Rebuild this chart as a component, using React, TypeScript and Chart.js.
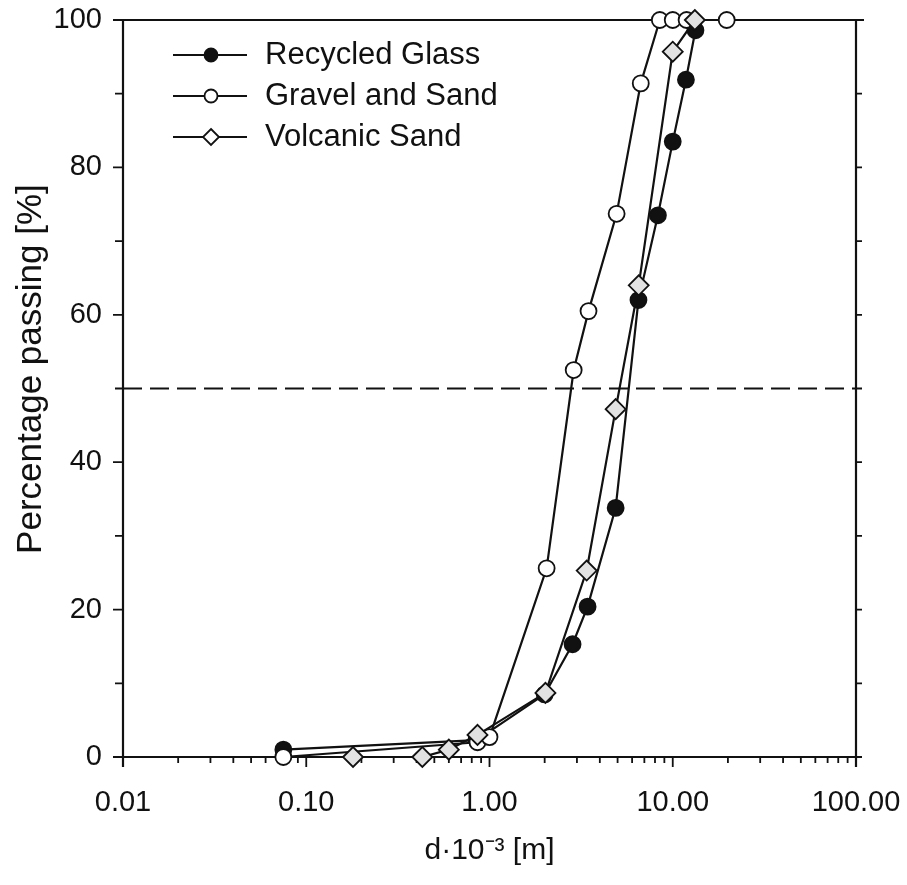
import React, { useEffect, useRef } from 'react';
import { Chart, registerables } from 'chart.js';

Chart.register(...registerables);

// ---- data ----
const seriesNames = ['Recycled Glass', 'Gravel and Sand', 'Volcanic Sand'];

const glassX = [0.075, 0.85, 2.0, 2.84, 3.43, 4.88, 6.5, 8.3, 10.0, 11.8, 13.3];
const glassY = [1.0, 2.3, 8.5, 15.3, 20.4, 33.8, 62.0, 73.5, 83.5, 91.9, 98.6];

const gravelX = [0.075, 0.86, 1.0, 2.05, 2.88, 3.47, 4.94, 6.69, 8.5, 10.0, 11.9, 19.7];
const gravelY = [0.0, 2.0, 2.7, 25.6, 52.5, 60.5, 73.7, 91.4, 100, 100, 100, 100];

const volcX = [0.18, 0.43, 0.6, 0.86, 2.02, 3.39, 4.88, 6.52, 10.0, 13.2];
const volcY = [0.0, 0.0, 1.0, 3.0, 8.7, 25.3, 47.2, 64.0, 95.7, 100];

const refLineX = [0.01, 100];
const refLineY = [50, 50];

const xMajorTicks = [0.01, 0.1, 1, 10, 100];
const xTickLabels = ['0.01', '0.10', '1.00', '10.00', '100.00'];
const yLabeledTicks = [0, 20, 40, 60, 80, 100];

const xTitle = 'd\u00B710\u207B\u00B3 [m]';
const yTitle = '    Percentage passing [%]';

const FONT = "'Liberation Sans', Arial, Helvetica, sans-serif";
const INK = '#111111';

const toPts = (xs: number[], ys: number[]) => xs.map((x, i) => ({ x, y: ys[i] }));

const isMajorX = (v: number) => xMajorTicks.some((m) => Math.abs(m - v) < m * 1e-6);

const framePlugin = {
  id: 'frame',
  beforeDatasetsDraw(chart: any) {
    const { ctx, chartArea: a, scales } = chart;
    const xs = scales.x;
    const ys = scales.y;
    ctx.save();
    ctx.strokeStyle = INK;
    ctx.lineWidth = 2.2;
    ctx.beginPath();
    ctx.moveTo(a.left, a.top);
    ctx.lineTo(a.right + 8, a.top);
    ctx.moveTo(a.right, a.top);
    ctx.lineTo(a.right, a.bottom + 10);
    ctx.moveTo(a.left - 10, a.bottom);
    ctx.lineTo(a.right + 6, a.bottom);
    ctx.moveTo(a.left, a.top - 1);
    ctx.lineTo(a.left, a.bottom + 10);
    ctx.stroke();

    ctx.lineWidth = 1.8;
    ctx.beginPath();
    for (const t of xs.ticks) {
      const px = xs.getPixelForValue(t.value);
      const len = isMajorX(t.value) ? 10 : 6;
      ctx.moveTo(px, a.bottom);
      ctx.lineTo(px, a.bottom + len);
    }
    for (const t of ys.ticks) {
      const py = ys.getPixelForValue(t.value);
      const major = yLabeledTicks.includes(t.value);
      ctx.moveTo(a.left, py);
      ctx.lineTo(a.left - (major ? 10 : 8), py);
      ctx.moveTo(a.right, py);
      ctx.lineTo(a.right + 6, py);
    }
    ctx.stroke();
    ctx.restore();
  },
};

const legendPlugin = {
  id: 'customLegend',
  afterDatasetsDraw(chart: any) {
    const { ctx } = chart;
    const rows = [55, 96, 137];
    const x0 = 173;
    const x1 = 247;
    const mx = 211;
    ctx.save();
    seriesNames.forEach((name, i) => {
      const y = rows[i];
      ctx.strokeStyle = INK;
      ctx.lineWidth = 2.2;
      ctx.beginPath();
      ctx.moveTo(x0, y);
      ctx.lineTo(x1, y);
      ctx.stroke();
      ctx.lineWidth = 1.8;
      ctx.beginPath();
      if (i === 2) {
        const r = 8;
        ctx.moveTo(mx, y - r);
        ctx.lineTo(mx + r, y);
        ctx.lineTo(mx, y + r);
        ctx.lineTo(mx - r, y);
        ctx.closePath();
        ctx.fillStyle = '#ffffff';
      } else {
        ctx.arc(mx, y, 6.5, 0, Math.PI * 2);
        ctx.fillStyle = i === 0 ? INK : '#ffffff';
      }
      ctx.fill();
      ctx.stroke();
      ctx.fillStyle = INK;
      ctx.font = `31px ${FONT}`;
      ctx.textBaseline = 'middle';
      ctx.textAlign = 'left';
      ctx.fillText(name, 265, y);
    });
    ctx.restore();
  },
};

export default function App() {
  const ref = useRef<HTMLCanvasElement | null>(null);

  useEffect(() => {
    if (!ref.current) return;
    const lineBase = {
      showLine: true,
      borderColor: INK,
      borderWidth: 2.2,
      tension: 0,
      clip: false as any,
      pointBorderColor: INK,
      pointBorderWidth: 1.8,
      pointHoverRadius: 8,
    };
    const chart = new Chart(ref.current, {
      type: 'scatter',
      data: {
        datasets: [
          {
            ...lineBase,
            label: seriesNames[2],
            data: toPts(volcX, volcY),
            pointStyle: 'rectRot',
            pointRadius: 10,
            pointBackgroundColor: '#e2e2e2',
            order: 0,
          },
          {
            ...lineBase,
            label: seriesNames[1],
            data: toPts(gravelX, gravelY),
            pointStyle: 'circle',
            pointRadius: 8,
            pointBackgroundColor: '#ffffff',
            order: 1,
          },
          {
            ...lineBase,
            label: seriesNames[0],
            data: toPts(glassX, glassY),
            pointStyle: 'circle',
            pointRadius: 8,
            pointBackgroundColor: INK,
            order: 2,
          },
          {
            ...lineBase,
            label: '50%',
            data: toPts(refLineX, refLineY),
            pointRadius: 0,
            borderDash: [19, 8],
            order: 3,
          },
        ],
      },
      options: {
        animation: false,
        responsive: false,
        maintainAspectRatio: false,
        layout: { padding: { top: 20, right: 51, left: 0, bottom: 0 } },
        plugins: {
          legend: { display: false },
          tooltip: { enabled: false },
        },
        scales: {
          x: {
            type: 'logarithmic',
            position: 'bottom',
            min: 0.01,
            max: 100,
            afterBuildTicks: (scale: any) => {
              const vals: number[] = [];
              for (let d = 0; d < xMajorTicks.length - 1; d++) {
                const base = xMajorTicks[d];
                vals.push(base);
                for (let m = 2; m <= 9; m++) vals.push(parseFloat((m * base).toPrecision(6)));
              }
              vals.push(xMajorTicks[xMajorTicks.length - 1]);
              scale.ticks = vals.map((v) => ({ value: v }));
            },
            afterFit: (scale: any) => {
              scale.height = 128;
              scale.paddingLeft = 0;
              scale.paddingRight = 0;
              scale.paddingTop = 0;
              scale.paddingBottom = 0;
            },
            grid: { display: false, drawTicks: false },
            border: { display: false },
            ticks: {
              autoSkip: false,
              maxRotation: 0,
              minRotation: 0,
              padding: 29,
              color: INK,
              font: { family: FONT, size: 29 },
              callback: (v: any) => {
                const idx = xMajorTicks.findIndex((m) => Math.abs(m - Number(v)) < m * 1e-6);
                return idx >= 0 ? xTickLabels[idx] : '';
              },
            },
            title: {
              display: true,
              text: xTitle,
              color: INK,
              font: { family: FONT, size: 30 },
              padding: { top: 0, bottom: 16 },
            },
          },
          y: {
            type: 'linear',
            position: 'left',
            min: 0,
            max: 100,
            afterFit: (scale: any) => {
              scale.width = 123;
              scale.paddingLeft = 0;
              scale.paddingRight = 0;
              scale.paddingTop = 0;
              scale.paddingBottom = 0;
            },
            grid: { display: false, drawTicks: false },
            border: { display: false },
            ticks: {
              stepSize: 10,
              padding: 21,
              color: INK,
              font: { family: FONT, size: 29 },
              callback: (v: any) => (yLabeledTicks.includes(Number(v)) ? String(v) : ''),
            },
            title: {
              display: true,
              text: yTitle,
              color: INK,
              font: { family: FONT, size: 35 },
              padding: { top: 10, bottom: 0 },
            },
          },
        },
      },
      plugins: [framePlugin, legendPlugin],
    });
    return () => chart.destroy();
  }, []);

  return (
    <div style={{ position: 'absolute', left: 0, top: 0, width: 907, height: 885, background: '#ffffff' }}>
      <canvas ref={ref} width={907} height={885} style={{ width: 907, height: 885, display: 'block' }} />
    </div>
  );
}
